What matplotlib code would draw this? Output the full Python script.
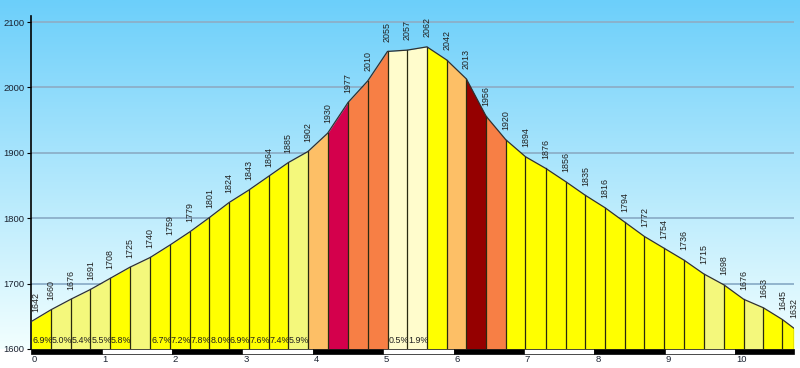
import numpy as np
import matplotlib
matplotlib.use("Agg")
import matplotlib.pyplot as plt
from matplotlib.patches import Rectangle

plt.rcParams['font.family'] = ['Liberation Sans', 'DejaVu Sans']

# --- data ---
distance_km = [0.00, 0.28, 0.56, 0.84, 1.12, 1.40, 1.69, 1.97, 2.25, 2.53,
               2.81, 3.09, 3.37, 3.65, 3.93, 4.21, 4.50, 4.78, 5.06, 5.34,
               5.62, 5.90, 6.18, 6.46, 6.74, 7.02, 7.31, 7.59, 7.87, 8.15,
               8.43, 8.71, 8.99, 9.27, 9.55, 9.84, 10.12, 10.40, 10.67, 10.83]
elevation_m = [1642, 1660, 1676, 1691, 1708, 1725, 1740, 1759, 1779, 1801,
               1824, 1843, 1864, 1885, 1902, 1930, 1977, 2010, 2055, 2057,
               2062, 2042, 2013, 1956, 1920, 1894, 1876, 1856, 1835, 1816,
               1794, 1772, 1754, 1736, 1715, 1698, 1676, 1663, 1645, 1632]
gradient_labels = ["6.9%", "5.0%", "5.4%", "5.5%", "5.8%", "", "6.7%", "7.2%",
                   "7.8%", "8.0%", "6.9%", "7.6%", "7.4%", "5.9%", "", "", "",
                   "", "0.5%", "1.9%", "", "", "", "", "", "", "", "", "", "",
                   "", "", "", "", "", "", "", "", ""]
segment_classes = ["Y", "P", "P", "P", "Y", "P", "Y", "Y", "Y", "Y",
                   "Y", "Y", "Y", "P", "LO", "C", "O", "O", "VP", "VP",
                   "Y", "LO", "DR", "O", "Y", "Y", "Y", "Y", "Y", "Y",
                   "Y", "Y", "Y", "Y", "P", "Y", "P", "Y", "Y"]
class_colors = {"Y": "#FFFF00", "P": "#F4F87C", "LO": "#FDBF66",
                "C": "#D4004C", "O": "#F77F45", "VP": "#FFFCCC",
                "DR": "#950000"}
y_ticks = [1600, 1700, 1800, 1900, 2000, 2100]
x_ticks = [0, 1, 2, 3, 4, 5, 6, 7, 8, 9, 10]

W, H = 800, 368
fig = plt.figure(figsize=(W / 100, H / 100), dpi=100)
fig.patch.set_facecolor("white")

# background gradient (top of figure down to the x axis)
bg = fig.add_axes([0, 0, 1, 1], zorder=0)
bg.set_axis_off()
bottom_frac = (H - 349) / H
top_c = np.array([108, 207, 250]) / 255
bot_c = np.array([242, 255, 255]) / 255
t = np.linspace(0, 1, 256)[:, None]
grad = top_c * (1 - t) + bot_c * t
img = np.repeat(grad[:, None, :], 2, axis=1)
bg.imshow(img, extent=[0, 1, bottom_frac, 1], aspect="auto", origin="upper")
bg.set_xlim(0, 1)
bg.set_ylim(0, 1)

left_px, right_px, top_px, bot_px = 31.3, 793.7, 16, 349
ax = fig.add_axes([left_px / W, (H - bot_px) / H, (right_px - left_px) / W,
                   (bot_px - top_px) / H], zorder=1)
ax.patch.set_alpha(0)
xmax = distance_km[-1]
ax.set_xlim(0, xmax)
ymin = 1600
ymax = 1600 + (bot_px - top_px) / 0.654
ax.set_ylim(ymin, ymax)

for yv in y_ticks[1:]:
    ax.plot([0, xmax], [yv, yv], color="#8CAFC9", lw=1.3, zorder=1)

x = np.array(distance_km)
y = np.array(elevation_m)
for i, cls in enumerate(segment_classes):
    ax.fill_between(x[i:i + 2], [ymin, ymin], y[i:i + 2],
                    color=class_colors[cls], lw=0, zorder=2)
for i in range(1, len(x)):
    ax.plot([x[i], x[i]], [ymin, y[i]], color="#2A2A10", lw=0.9, zorder=3)
ax.plot(x, y, color="#303030", lw=0.9, zorder=4)

# elevation labels
for i, (xi, yi) in enumerate(zip(x, y)):
    dx = 5 if i == 0 else 0
    ax.annotate(str(yi), (xi, yi), xytext=(dx * 0.72, 7), textcoords="offset points",
                rotation=90, ha="center", va="bottom", fontsize=6.4,
                color="#202020", zorder=5)

# gradient labels
for i, lab in enumerate(gradient_labels):
    if lab:
        ax.annotate(lab, (x[i], 1613), xytext=(0.6, 0), textcoords="offset points",
                    ha="left", va="center", fontsize=6.4, color="#202020",
                    zorder=5)

# axes styling
for s in ["top", "right", "bottom"]:
    ax.spines[s].set_visible(False)
ax.spines["left"].set_color("black")
ax.spines["left"].set_linewidth(1.2)
ax.set_yticks(y_ticks)
ax.set_yticklabels([str(v) for v in y_ticks], fontsize=6.8, color="#1A2230")
ax.tick_params(axis="y", length=3, width=0.8, pad=2)
ax.set_xticks([])

# scale bar under axis
bar_h = 5 / 0.654
for k in range(len(x_ticks)):
    x0 = x_ticks[k]
    x1 = x_ticks[k + 1] if k + 1 < len(x_ticks) else xmax
    fc = "black" if k % 2 == 0 else "white"
    ax.add_patch(Rectangle((x0, ymin - bar_h), x1 - x0, bar_h, facecolor=fc,
                           edgecolor="black", lw=0.5, clip_on=False, zorder=6))
for xt in x_ticks:
    ax.annotate(str(xt), (xt, ymin - bar_h), xytext=(0.5, -0.5),
                textcoords="offset points", ha="left", va="top",
                fontsize=6.8, color="#1A2230", annotation_clip=False)

fig.savefig("out.png", dpi=100)
